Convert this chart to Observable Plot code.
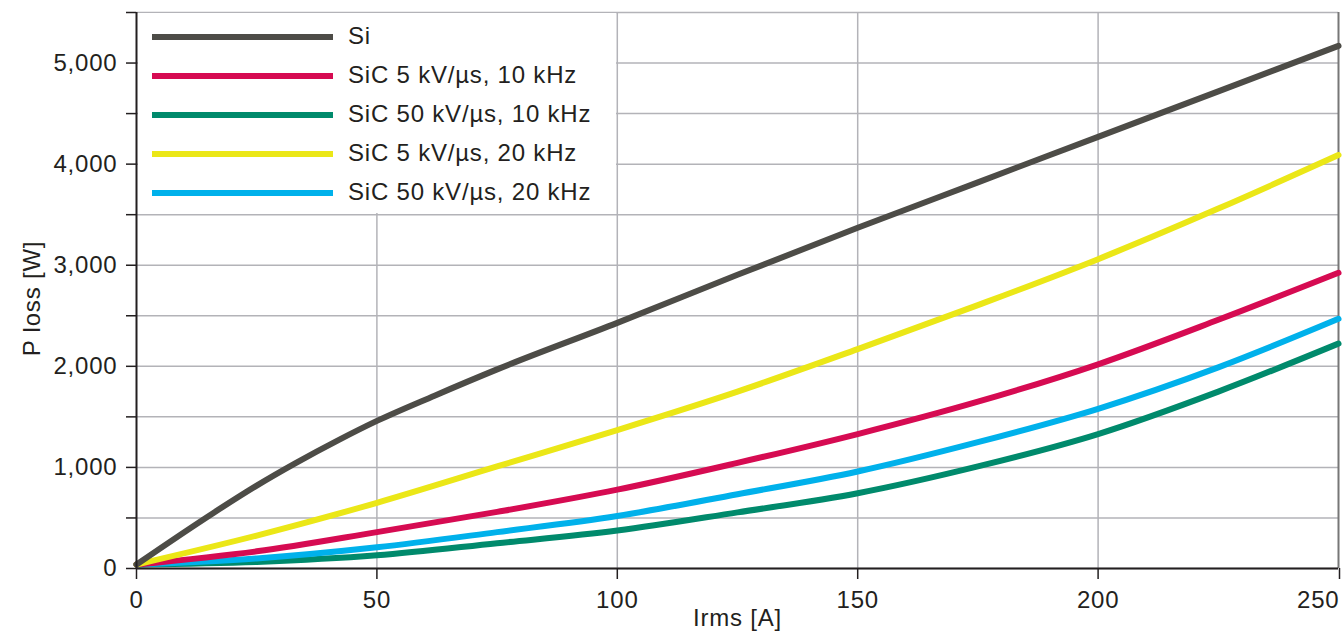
<!DOCTYPE html>
<html>
<head>
<meta charset="utf-8">
<script src="https://cdn.jsdelivr.net/npm/d3@7"></script>
<script src="https://cdn.jsdelivr.net/npm/@observablehq/plot@0.6"></script>
<style>
  html, body { margin: 0; padding: 0; background: #fff; }
  #wrap { position: relative; width: 1342px; height: 634px; font-family: "Liberation Sans", Arial, sans-serif; }
  #legend { position: absolute; background: #fff; }
  .lg-sw { position: absolute; height: 6px; }
  .lg-tx { position: absolute; font-size: 24px; letter-spacing: 0.8px; color: #231f20; white-space: nowrap; line-height: 1; }
</style>
</head>
<body>
<div id="wrap"></div>
<script>
// ---- data ----
const seriesNames = ["Si", "SiC 5 kV/µs, 10 kHz", "SiC 50 kV/µs, 10 kHz", "SiC 5 kV/µs, 20 kHz", "SiC 50 kV/µs, 20 kHz"];
const seriesColors = ["#4d4c47", "#d60b52", "#008a6c", "#ebe717", "#00b1eb"];

const siIrms = [0, 16, 25, 33, 42, 50, 62, 75, 100, 125, 150, 175, 200, 225, 250];
const siLoss = [40, 550, 820, 1040, 1270, 1460, 1710, 1970, 2430, 2905, 3370, 3820, 4270, 4720, 5170];

const irms = [0, 25, 50, 75, 100, 125, 150, 175, 200, 225, 250];
const sic5k10 = [40, 170, 360, 560, 780, 1045, 1330, 1650, 2020, 2460, 2925];
const sic50k10 = [40, 65, 130, 250, 375, 555, 745, 1010, 1330, 1750, 2225];
const sic5k20 = [40, 326, 650, 1010, 1370, 1750, 2170, 2605, 3060, 3560, 4090];
const sic50k20 = [40, 100, 210, 360, 520, 735, 960, 1250, 1580, 1990, 2470];

const xTicks = [0, 50, 100, 150, 200, 250];
const yTicks = [0, 500, 1000, 1500, 2000, 2500, 3000, 3500, 4000, 4500, 5000, 5500];
const xLabel = "Irms [A]";
const yLabel = "P loss [W]";

(function () {
  // ---- build table ----
  const rows = [];
  siIrms.forEach((x, i) => rows.push({series: seriesNames[0], x, y: siLoss[i]}));
  [sic5k10, sic50k10, sic5k20, sic50k20].forEach((arr, k) => {
    irms.forEach((x, i) => rows.push({series: seriesNames[k + 1], x, y: arr[i]}));
  });
  const drawOrder = [seriesNames[2], seriesNames[4], seriesNames[1], seriesNames[3], seriesNames[0]];
  rows.sort((a, b) => drawOrder.indexOf(a.series) - drawOrder.indexOf(b.series) || a.x - b.x);

  const fmt = d3.format(",");
  const lastX = xTicks[xTicks.length - 1];
  const plot = Plot.plot({
    width: 1342,
    height: 634,
    marginLeft: 136,
    marginRight: 4,
    marginTop: 12,
    marginBottom: 66,
    style: {fontFamily: "Liberation Sans, Arial, sans-serif", fontSize: "24px", letterSpacing: "0.8px", color: "#231f20", background: "#fff"},
    x: {domain: [0, 250]},
    y: {domain: [0, 5500]},
    color: {domain: seriesNames, range: seriesColors},
    marks: [
      Plot.gridY(yTicks, {stroke: "#b3b3b8", strokeOpacity: 1, strokeWidth: 1.5}),
      Plot.gridX(xTicks.slice(1, -1), {stroke: "#b3b3b8", strokeOpacity: 1, strokeWidth: 1.5}),
      Plot.gridX([lastX], {stroke: "#777", strokeOpacity: 1, strokeWidth: 2}),
      Plot.axisY(yTicks, {tickSize: 10, tickPadding: 9, stroke: "#231f20", strokeWidth: 1.5,
        tickFormat: d => (d % 1000 === 0 && d <= 5000) ? fmt(d) : "", label: null}),
      Plot.axisX(xTicks.slice(0, -1), {tickSize: 11, tickPadding: 11, stroke: "#231f20", strokeWidth: 1.5, tickFormat: d => String(d), label: null}),
      Plot.axisX([lastX], {tickSize: 11, tickPadding: 11, stroke: "#231f20", strokeWidth: 1.5, tickFormat: d => String(d), textAnchor: "end", dx: 1, label: null}),
      Plot.line(rows, {x: "x", y: "y", z: "series", stroke: "series", strokeWidth: 6, curve: "monotone-x"}),
      Plot.ruleX([0], {stroke: "#231f20", strokeWidth: 2}),
      Plot.ruleY([0], {stroke: "#231f20", strokeWidth: 2}),
      Plot.text([xLabel], {frameAnchor: "bottom", dy: 50, fontSize: 24, fill: "#231f20", lineAnchor: "middle", textAnchor: "middle"}),
      Plot.text([yLabel], {frameAnchor: "left", dx: -104, dy: 8, rotate: -90, fontSize: 24, fill: "#231f20", lineAnchor: "middle", textAnchor: "middle"})
    ]
  });

  const wrap = document.getElementById("wrap");
  wrap.appendChild(plot);

  // ---- legend overlay (white box bounded by gridlines) ----
  const sx = plot.scale("x"), sy = plot.scale("y");
  const bLeft = sx.apply(0) + 1.5, bRight = sx.apply(100) - 1;
  const bTop = sy.apply(5500) + 1, bBottom = sy.apply(3500) - 1;
  const lg = document.createElement("div");
  lg.id = "legend";
  lg.style.left = bLeft + "px";
  lg.style.top = bTop + "px";
  lg.style.width = (bRight - bLeft) + "px";
  lg.style.height = (bBottom - bTop) + "px";
  seriesNames.forEach((name, i) => {
    const cy = 37 + 39 * i - bTop;
    const sw = document.createElement("div");
    sw.className = "lg-sw";
    sw.style.left = (152 - bLeft) + "px";
    sw.style.width = "181px";
    sw.style.top = (cy - 3) + "px";
    sw.style.background = seriesColors[i];
    lg.appendChild(sw);
    const tx = document.createElement("div");
    tx.className = "lg-tx";
    tx.style.left = (348 - bLeft) + "px";
    tx.style.top = (cy - 13) + "px";
    tx.textContent = name;
    lg.appendChild(tx);
  });
  wrap.appendChild(lg);
})();
</script>
</body>
</html>
